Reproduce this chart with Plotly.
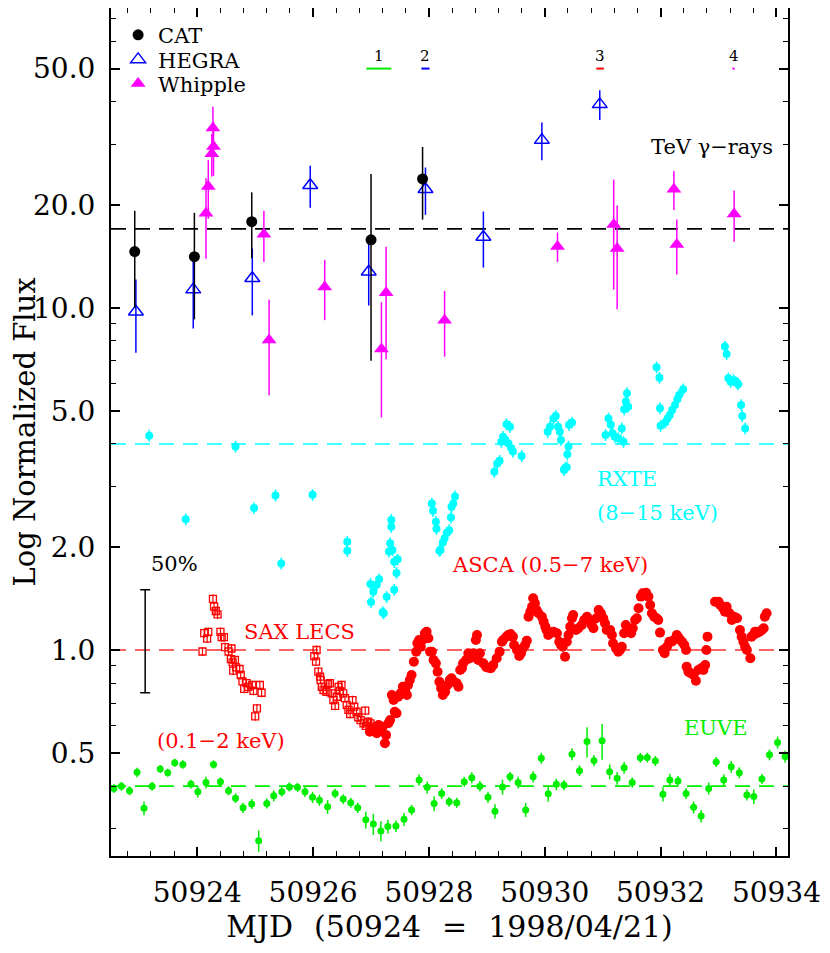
import math
import plotly.graph_objects as go

FONT = "DejaVu Serif"

# ---- TeV gamma-rays ----
cat_mjd = [50922.92, 50923.95, 50924.94, 50927.00, 50927.89]
cat_flux = [14.6, 14.1, 17.85, 15.8, 23.8]
cat_err = [4.6, 4.85, 3.9, 8.8, 5.7]

hegra_mjd = [50922.94, 50923.93, 50924.95, 50925.95, 50926.96, 50927.94,
             50928.94, 50929.95, 50930.95]
hegra_flux = [9.74, 11.3, 12.2, 22.8, 12.75, 22.2, 16.1, 30.9, 39.3]
hegra_err = [2.35, 2.6, 2.7, 3.2, 2.6, 3.5, 3.0, 3.9, 3.9]

whipple_mjd = [50924.15, 50924.19, 50924.25, 50924.28, 50924.27, 50925.15,
               50925.24, 50926.20, 50927.18, 50927.26, 50928.27, 50930.22,
               50931.19, 50931.25, 50932.23, 50932.28, 50933.27]
whipple_flux = [18.9, 22.6, 28.2, 29.6, 33.5, 16.4, 8.05, 11.5, 7.58, 11.07,
                9.2, 15.1, 17.5, 14.9, 22.2, 15.3, 18.8]
whipple_err = [5.0, 4.4, 4.0, 5.3, 5.2, 2.8, 2.5, 2.3, 2.8, 4.0, 2.0, 1.5,
               6.2, 5.0, 2.9, 2.8, 3.2]

# ---- RXTE 8-15 keV ----
rxte_mjd = [50923.17, 50924.66, 50923.80, 50924.98, 50925.35, 50925.45,
            50925.99, 50926.59, 50926.59,
            50926.99, 50927.00, 50927.04, 50927.10, 50927.14, 50927.20,
            50927.22, 50927.27, 50927.35, 50927.35, 50927.33, 50927.31,
            50927.37, 50927.40, 50927.46, 50927.44, 50927.40,
            50928.05, 50928.07, 50928.12, 50928.13, 50928.18, 50928.20,
            50928.24, 50928.27, 50928.31, 50928.35, 50928.38, 50928.39,
            50928.42, 50928.45,
            50929.13, 50929.18, 50929.22, 50929.25, 50929.28, 50929.31,
            50929.34, 50929.40, 50929.37, 50929.42, 50929.45, 50929.60,
            50930.05, 50930.09, 50930.15, 50930.19, 50930.23, 50930.26,
            50930.28, 50930.42, 50930.47, 50930.41, 50930.39, 50930.35,
            50930.33, 50930.38,
            50931.05, 50931.10, 50931.14, 50931.17, 50931.21, 50931.27,
            50931.33, 50931.36, 50931.37, 50931.40, 50931.42, 50931.44,
            50931.93, 50931.98, 50931.99, 50932.00, 50932.08, 50932.12,
            50932.16, 50932.20, 50932.25, 50932.29, 50932.32, 50932.39,
            50933.11, 50933.14, 50933.17, 50933.21, 50933.26, 50933.32,
            50933.34, 50933.39, 50933.41, 50933.46]
rxte_flux = [4.23, 3.93, 2.41, 2.60, 2.83, 1.79, 2.84, 2.07, 1.95,
             1.56, 1.38, 1.48, 1.55, 1.61, 1.29, 1.28, 1.43, 2.40, 2.29,
             2.05, 1.94, 1.96, 1.81, 1.84, 1.68, 1.50,
             2.68, 2.55, 2.37, 2.26, 1.95, 1.96, 2.06, 2.12, 2.20, 2.24,
             2.44, 2.62, 2.68, 2.81,
             3.32, 3.51, 3.57, 4.06, 4.20, 4.13, 4.57, 4.49, 4.02, 3.89,
             3.80, 3.69,
             4.34, 4.49, 4.75, 4.83, 4.49, 4.34, 4.11, 4.55, 4.62, 3.93,
             3.73, 3.40, 3.36, 3.42,
             4.25, 4.75, 4.55, 4.30, 4.20, 4.16, 4.44, 4.06, 5.05, 5.32,
             5.63, 5.14,
             6.70, 6.25, 5.09, 4.52, 4.62, 4.75, 4.86, 5.03, 5.20, 5.40,
             5.56, 5.78,
             7.70, 7.33, 6.22, 6.08, 6.15, 6.04, 5.98, 5.20, 4.83, 4.44]

# ---- ASCA 0.5-7 keV ----
asca_mjd = [50926.98, 50927.04, 50927.10, 50927.13, 50927.17, 50927.20,
            50927.24, 50927.26, 50927.30, 50927.33, 50927.36, 50927.39,
            50927.41, 50927.44, 50927.47, 50927.51, 50927.55, 50927.59,
            50927.62, 50927.64, 50927.67, 50927.70, 50927.74, 50927.78,
            50927.80, 50927.83, 50927.86, 50927.89, 50927.93, 50927.96,
            50927.99, 50928.02, 50928.05, 50928.08, 50928.12, 50928.15,
            50928.18, 50928.21, 50928.24, 50928.28, 50928.32, 50928.36,
            50928.39, 50928.43, 50928.48, 50928.51, 50928.54, 50928.57,
            50928.59, 50928.64, 50928.68, 50928.71, 50928.74, 50928.77,
            50928.80, 50928.81, 50928.83, 50928.85, 50928.88, 50928.94,
            50928.99, 50929.03, 50929.07, 50929.11, 50929.17, 50929.22,
            50929.26, 50929.28, 50929.34, 50929.37, 50929.41, 50929.45,
            50929.47, 50929.52, 50929.56, 50929.59, 50929.62, 50929.66,
            50929.69, 50929.72, 50929.75, 50929.78, 50929.80, 50929.83,
            50929.86, 50929.89, 50929.95, 50929.98, 50930.01, 50930.03,
            50930.06, 50930.10, 50930.15, 50930.21, 50930.25, 50930.28,
            50930.31, 50930.35, 50930.38, 50930.41, 50930.44, 50930.47,
            50930.49, 50930.54, 50930.58, 50930.64, 50930.68, 50930.73,
            50930.77, 50930.81, 50930.84, 50930.89, 50930.93, 50930.97,
            50931.01, 50931.04, 50931.07, 50931.13, 50931.16, 50931.18,
            50931.23, 50931.27, 50931.30, 50931.33, 50931.37, 50931.40,
            50931.44, 50931.49, 50931.52, 50931.56, 50931.59, 50931.62,
            50931.66, 50931.69, 50931.75, 50931.79, 50931.82, 50931.85,
            50931.89, 50931.93, 50931.96, 50931.99, 50932.04, 50932.07,
            50932.11, 50932.15, 50932.19, 50932.23, 50932.28, 50932.32,
            50932.37, 50932.41, 50932.44, 50932.45, 50932.48, 50932.52,
            50932.57, 50932.61, 50932.65, 50932.70, 50932.74, 50932.77,
            50932.79, 50932.81, 50932.94, 50933.00, 50933.03, 50933.08,
            50933.11, 50933.14, 50933.19, 50933.23, 50933.27, 50933.32,
            50933.37, 50933.40, 50933.43, 50933.46, 50933.49, 50933.55,
            50933.57, 50933.60, 50933.63, 50933.66, 50933.71, 50933.75,
            50933.78, 50933.80, 50933.83]
asca_flux = [0.577, 0.590, 0.571, 0.604, 0.584, 0.597, 0.534, 0.564, 0.611,
             0.624, 0.739, 0.714, 0.660, 0.653, 0.730, 0.747, 0.781, 0.764,
             0.739, 0.790, 0.817, 0.845, 0.924, 0.989, 1.046, 1.070, 1.022,
             1.070, 1.119, 1.131, 1.082, 0.989, 0.989, 0.935, 0.914, 0.864,
             0.808, 0.773, 0.739, 0.755, 0.790, 0.817, 0.827, 0.808, 0.799,
             0.781, 0.874, 0.884, 0.914, 0.935, 0.978, 0.946, 0.956, 0.978,
             0.967, 1.070, 1.106, 0.935, 0.978, 0.914, 0.890, 0.888, 0.884,
             0.904, 0.946, 0.989, 1.057, 1.070, 1.094, 1.106, 1.114, 1.094,
             1.034, 1.000, 0.961, 0.978, 1.011, 1.034, 1.065, 1.251, 1.294,
             1.338, 1.416, 1.369, 1.309, 1.280, 1.251, 1.210, 1.170, 1.144,
             1.106, 1.119, 1.131, 1.119, 1.057, 1.034, 1.022, 0.956, 1.057,
             1.106, 1.170, 1.238, 1.266, 1.144, 1.157, 1.183, 1.224, 1.251,
             1.224, 1.183, 1.157, 1.238, 1.309, 1.280, 1.238, 1.197, 1.144,
             1.144, 1.106, 1.046, 1.011, 0.989, 1.000, 1.022, 1.119, 1.183,
             1.157, 1.119, 1.157, 1.224, 1.238, 1.324, 1.432, 1.464, 1.470,
             1.432, 1.353, 1.280, 1.251, 1.238, 1.224, 1.124, 1.000, 0.978,
             1.022, 1.057, 1.057, 1.070, 1.106, 1.082, 1.057, 1.034, 1.000,
             0.894, 0.864, 0.855, 0.845, 0.813, 0.874, 0.884, 0.874, 0.904,
             1.000, 1.094, 1.384, 1.384, 1.353, 1.324, 1.294, 1.338, 1.280,
             1.224, 1.251, 1.238, 1.144, 1.094, 1.057, 1.022, 1.000, 0.946,
             1.094, 1.106, 1.131, 1.119, 1.131, 1.144, 1.157, 1.251, 1.280]

# ---- BeppoSAX LECS 0.1-2 keV ----
sax_mjd = [50924.09, 50924.12, 50924.19, 50924.17, 50924.27, 50924.29,
           50924.32, 50924.35, 50924.40, 50924.42, 50924.46, 50924.48,
           50924.54, 50924.59, 50924.58, 50924.61, 50924.65, 50924.67,
           50924.62, 50924.73, 50924.75, 50924.78, 50924.81, 50924.85,
           50924.88, 50924.95, 50924.97, 50925.03, 50925.00, 50925.08,
           50925.11,
           50926.06, 50926.02, 50926.05, 50926.09, 50926.12, 50926.13,
           50926.15, 50926.18, 50926.23, 50926.26, 50926.29, 50926.32,
           50926.35, 50926.38, 50926.41, 50926.44, 50926.46, 50926.49,
           50926.52, 50926.55, 50926.58, 50926.61, 50926.64, 50926.68,
           50926.71, 50926.75, 50926.78, 50926.82, 50926.87, 50926.90,
           50926.91, 50926.95, 50926.99, 50927.01]
sax_flux = [0.99, 1.12, 1.13, 1.08, 1.41, 1.34, 1.30, 1.27, 1.13, 1.09,
            1.09, 1.02, 0.99, 1.01, 0.94, 0.92, 0.935, 0.89, 0.87, 0.88,
            0.845, 0.81, 0.77, 0.80, 0.78, 0.79, 0.76, 0.675, 0.64, 0.79,
            0.75,
            1.00, 0.96, 0.925, 0.864, 0.836, 0.817, 0.78, 0.764, 0.755,
            0.796, 0.80, 0.747, 0.714, 0.687, 0.73, 0.78, 0.76, 0.79,
            0.747, 0.723, 0.69, 0.668, 0.65, 0.714, 0.683, 0.66, 0.636,
            0.624, 0.61, 0.665, 0.60, 0.617, 0.61, 0.597]

# ---- EUVE ----
euve_mjd = [50922.56, 50922.69, 50922.83, 50922.96, 50923.08, 50923.22,
            50923.36, 50923.49, 50923.61, 50923.75, 50923.89, 50924.01,
            50924.15, 50924.28, 50924.40, 50924.54, 50924.66, 50924.79,
            50924.94, 50925.06, 50925.20, 50925.32, 50925.46, 50925.59,
            50925.73, 50925.86, 50925.99, 50926.11, 50926.25, 50926.38,
            50926.52, 50926.65, 50926.77, 50926.91, 50927.04, 50927.17,
            50927.29, 50927.43, 50927.57, 50927.70, 50927.83, 50927.97,
            50928.09, 50928.22, 50928.35, 50928.48, 50928.61, 50928.74,
            50928.88, 50929.02, 50929.14, 50929.27, 50929.40, 50929.54,
            50929.67, 50929.80, 50929.94, 50930.06, 50930.20, 50930.33,
            50930.47, 50930.60, 50930.73, 50930.85, 50930.99, 50931.12,
            50931.25, 50931.37, 50931.51, 50931.65, 50931.77, 50931.91,
            50932.04, 50932.16, 50932.30, 50932.44, 50932.57, 50932.70,
            50932.83, 50932.96, 50933.09, 50933.22, 50933.36, 50933.49,
            50933.61, 50933.75, 50933.88, 50934.02, 50934.15]
euve_flux = [0.394, 0.400, 0.388, 0.439, 0.345, 0.400, 0.449, 0.438, 0.468,
             0.463, 0.406, 0.385, 0.410, 0.463, 0.412, 0.388, 0.369, 0.346,
             0.355, 0.277, 0.356, 0.375, 0.385, 0.398, 0.397, 0.385, 0.371,
             0.364, 0.348, 0.381, 0.367, 0.358, 0.346, 0.319, 0.310, 0.296,
             0.305, 0.306, 0.320, 0.341, 0.417, 0.397, 0.356, 0.381, 0.360,
             0.358, 0.412, 0.423, 0.400, 0.371, 0.338, 0.398, 0.426, 0.410,
             0.341, 0.426, 0.483, 0.380, 0.405, 0.403, 0.496, 0.444, 0.540,
             0.475, 0.543, 0.441, 0.422, 0.453, 0.410, 0.484, 0.485, 0.474,
             0.379, 0.417, 0.414, 0.381, 0.347, 0.327, 0.394, 0.471, 0.417,
             0.456, 0.438, 0.377, 0.373, 0.420, 0.494, 0.537, 0.488]
euve_err = [0.012, 0.012, 0.012, 0.014, 0.016, 0.012, 0.012, 0.012, 0.013,
            0.013, 0.012, 0.015, 0.016, 0.013, 0.012, 0.012, 0.012, 0.012,
            0.012, 0.020, 0.012, 0.014, 0.012, 0.012, 0.012, 0.013, 0.014,
            0.014, 0.016, 0.012, 0.012, 0.012, 0.012, 0.018, 0.022, 0.020,
            0.014, 0.012, 0.014, 0.012, 0.016, 0.016, 0.018, 0.014, 0.012,
            0.012, 0.014, 0.016, 0.014, 0.014, 0.016, 0.020, 0.014, 0.016,
            0.016, 0.016, 0.018, 0.020, 0.016, 0.014, 0.020, 0.016, 0.055,
            0.018, 0.065, 0.022, 0.018, 0.018, 0.014, 0.016, 0.016, 0.016,
            0.018, 0.018, 0.014, 0.014, 0.014, 0.014, 0.016, 0.016, 0.016,
            0.018, 0.016, 0.014, 0.018, 0.014, 0.018, 0.022, 0.020]

# reference levels (dashed) and observation windows 1-4
ref_levels = [17.0, 4.0, 1.0, 0.4]
ref_colors = ["black", "#00ffff", "#ff3030", "#00ee00"]
win_start = [50926.92, 50927.87, 50930.89, 50933.24]
win_end = [50927.35, 50928.01, 50931.02, 50933.28]
win_colors = ["#00ee00", "blue", "red", "magenta"]
win_labels = ["1", "2", "3", "4"]
win_level = 50.0

# 50% scale bar
bar_mjd, bar_flux, bar_up, bar_down = 50923.10, 1.0, 0.5, 0.25

fig = go.Figure()

for lev, col in zip(ref_levels, ref_colors):
    fig.add_hline(y=lev, line=dict(color=col, width=1.6, dash="15px,9px"),
                  layer="below")

for x0, x1, col in zip(win_start, win_end, win_colors):
    fig.add_trace(go.Scatter(x=[x0, x1], y=[win_level, win_level], mode="lines",
                             line=dict(color=col, width=2), showlegend=False))

fig.add_trace(go.Scatter(
    x=euve_mjd, y=euve_flux, mode="markers", showlegend=False,
    marker=dict(color="#00ee00", size=7),
    error_y=dict(type="data", array=euve_err, color="#00ee00", thickness=1.5, width=0)))

fig.add_trace(go.Scatter(
    x=sax_mjd, y=sax_flux, mode="markers", showlegend=False,
    marker=dict(color="red", size=7, symbol="square-open", line=dict(width=1.3)),
    error_y=dict(type="percent", value=3, color="red", thickness=1.2, width=0)))

fig.add_trace(go.Scatter(
    x=asca_mjd, y=asca_flux, mode="markers", showlegend=False,
    marker=dict(color="red", size=10)))

fig.add_trace(go.Scatter(
    x=rxte_mjd, y=rxte_flux, mode="markers", showlegend=False,
    marker=dict(color="#00ffff", size=8),
    error_y=dict(type="percent", value=4, color="#00ffff", thickness=1.5, width=0)))

fig.add_trace(go.Scatter(
    x=whipple_mjd, y=whipple_flux, mode="markers", name="Whipple", legend="legend3",
    marker=dict(color="magenta", size=13, symbol="triangle-up"),
    error_y=dict(type="data", array=whipple_err, color="magenta", thickness=1.5, width=0)))

fig.add_trace(go.Scatter(
    x=hegra_mjd, y=hegra_flux, mode="markers", name="HEGRA", legend="legend2",
    marker=dict(color="blue", size=13, symbol="triangle-up-open", line=dict(width=1.5)),
    error_y=dict(type="data", array=hegra_err, color="blue", thickness=1.5, width=0)))

fig.add_trace(go.Scatter(
    x=cat_mjd, y=cat_flux, mode="markers", name="CAT", legend="legend",
    marker=dict(color="black", size=11),
    error_y=dict(type="data", array=cat_err, color="black", thickness=1.5, width=0)))

fig.add_trace(go.Scatter(
    x=[bar_mjd], y=[bar_flux], mode="markers", showlegend=False,
    marker=dict(size=1, color="rgba(0,0,0,0)"),
    error_y=dict(type="data", array=[bar_up], arrayminus=[bar_down],
                 color="black", thickness=1.5, width=5)))

# window numbers above their bars
for x0, x1, lab in zip(win_start, win_end, win_labels):
    fig.add_annotation(x=(x0 + x1) / 2, y=math.log10(win_level), text=lab,
                       showarrow=False, yanchor="bottom", yshift=2,
                       font=dict(family=FONT, size=15, color="black"))

texts = [
    ("TeV \u03b3\u2212rays", 50933.98, 29.6, "right", "black"),
    ("RXTE", 50930.87, 3.16, "left", "#00ffff"),
    ("(8\u221215 keV)", 50930.87, 2.52, "left", "#00ffff"),
    ("ASCA (0.5\u22127 keV)", 50928.36, 1.77, "left", "red"),
    ("SAX LECS", 50924.77, 1.13, "left", "red"),
    ("(0.1\u22122 keV)", 50923.27, 0.542, "left", "red"),
    ("EUVE", 50932.37, 0.593, "left", "#00ee00"),
    ("50%", 50923.17, 1.78, "left", "black"),
]
for txt, x, y, anchor, col in texts:
    fig.add_annotation(x=x, y=math.log10(y), text=txt, showarrow=False,
                       xanchor=anchor, yanchor="middle",
                       font=dict(family=FONT, size=21, color=col))

axis_common = dict(showline=True, linecolor="black", linewidth=2, mirror="allticks",
                   ticks="inside", ticklen=9, tickwidth=1.5, tickcolor="black",
                   showgrid=False, zeroline=False, automargin=False,
                   tickfont=dict(family=FONT, size=28, color="black"))

fig.update_xaxes(range=[50922.51, 50934.20], tickmode="linear", tick0=50924, dtick=2,
                 tickformat="d", ticklabelstandoff=10,
                 minor=dict(ticks="inside", ticklen=5, tickwidth=1.2, tickcolor="black",
                            tickmode="linear", tick0=50924, dtick=0.4),
                 title=dict(text="MJD\u2002\u2009(50924\u2002\u2009=\u2002\u20091998/04/21)",
                            font=dict(family=FONT, size=30, color="black"), standoff=6),
                 **axis_common)
fig.update_yaxes(type="log", range=[-0.602, 1.876],
                 tickmode="array", tickvals=[0.5, 1, 2, 5, 10, 20, 50],
                 ticktext=["0.5", "1.0", "2.0", "5.0", "10.0", "20.0", "50.0"],
                 ticklabelstandoff=8,
                 minor=dict(ticks="inside", ticklen=5, tickwidth=1.2, tickcolor="black",
                            tickmode="array",
                            tickvals=[0.3, 0.4, 0.6, 0.7, 0.8, 0.9, 3, 4, 6, 7, 8, 9,
                                      30, 40, 60, 70]),
                 title=dict(text="Log Normalized Flux",
                            font=dict(family=FONT, size=29, color="black"), standoff=8),
                 **axis_common)

# one single-entry legend per TeV instrument so each row can be placed exactly
legend_style = dict(x=0.0105, xanchor="left", yanchor="middle", bgcolor="rgba(0,0,0,0)",
                    font=dict(family=FONT, size=21, color="black"), itemsizing="trace")
fig.update_layout(
    width=822, height=945,
    margin=dict(l=103, r=42, t=0, b=97),
    paper_bgcolor="white", plot_bgcolor="white",
    showlegend=True,
    legend=dict(y=0.968, **legend_style),
    legend2=dict(y=0.939, **legend_style),
    legend3=dict(y=0.9105, **legend_style),
)

fig.write_html("out.html")
